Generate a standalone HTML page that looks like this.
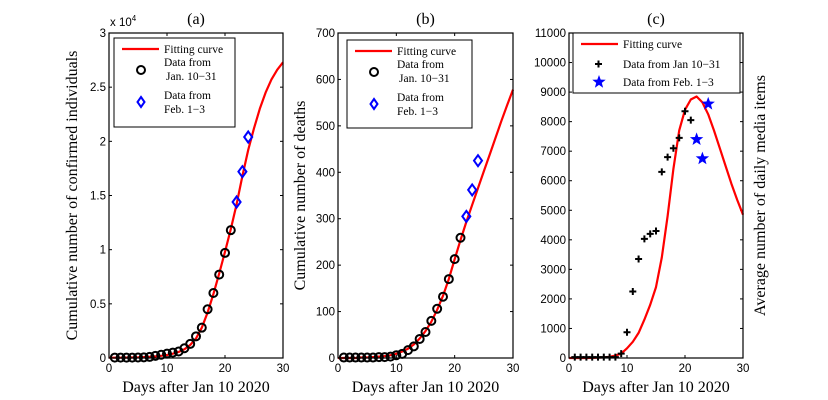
<!DOCTYPE html>
<html><head><meta charset="utf-8"><style>
html,body{margin:0;padding:0;background:#fff;}
svg{display:block;}
.tk{font-family:"Liberation Sans",sans-serif;font-size:11.5px;fill:#000;}
.lb{font-family:"Liberation Serif",serif;font-size:16px;fill:#000;}
.lg{font-family:"Liberation Serif",serif;font-size:11.5px;fill:#000;}
</style></head><body>
<svg id="chart" width="828" height="400" viewBox="0 0 828 400" xmlns="http://www.w3.org/2000/svg"></svg>
<script>
// Panel (a): confirmed (x1e4)
const days = [1,2,3,4,5,6,7,8,9,10,11,12,13,14,15,16,17,18,19,20,21];
const febDays = [22,23,24];
const curveDays = [0,1,2,3,4,5,6,7,8,9,10,11,12,13,14,15,16,17,18,19,20,21,22,23,24,25,26,27,28,29,30];
const confirmedData = [0.004,0.004,0.004,0.004,0.005,0.006,0.01,0.02,0.03,0.04,0.05,0.06,0.09,0.13,0.2,0.28,0.45,0.6,0.77,0.97,1.18];
const confirmedFeb = [1.44,1.72,2.04];
const confirmedFit = [0.003,0.003,0.003,0.004,0.005,0.006,0.008,0.011,0.015,0.02,0.028,0.04,0.055,0.08,0.12,0.18,0.28,0.42,0.59,0.78,0.98,1.19,1.42,1.68,1.92,2.12,2.3,2.45,2.57,2.66,2.73];
const aTicks = [0,0.5,1,1.5,2,2.5,3];
const aTickLabels = ["0","0.5","1","1.5","2","2.5","3"];
// Panel (b): deaths
const deathsData = [1,1,1,1,1,1,2,2,3,6,9,17,25,41,56,80,106,132,170,213,259];
const deathsFeb = [305,362,425];
const deathsFit = [0,0,0,0,1,1,2,3,4,6,9,14,20,29,42,58,78,104,134,170,213,254,293,330,366,402,438,474,510,545,578];
const bTicks = [0,100,200,300,400,500,600,700];
// Panel (c): media items
const mediaData = [30,30,30,30,30,30,30,30,150,870,2250,3350,4030,4200,4300,6300,6800,7100,7450,8350,8050];
const mediaFeb = [7400,6750,8600];
const mediaFit = [0,0,0,0,5,10,20,40,80,150,330,550,850,1300,1800,2400,3400,4800,6400,7700,8400,8750,8850,8650,8250,7700,7100,6500,5900,5350,4850];
const cTicks = [0,1000,2000,3000,4000,5000,6000,7000,8000,9000,10000,11000];
const xTicks = [0,10,20,30];

const svg = document.getElementById('chart');
const NS = 'http://www.w3.org/2000/svg';
function mk(tag, attrs, parent){const e=document.createElementNS(NS,tag);for(const k in attrs)e.setAttribute(k,attrs[k]);(parent||svg).appendChild(e);return e;}

function panel(o){
  const g=mk('g',{});
  
  
  const X=v=>o.x0+(v-0)/30*(o.x1-o.x0);
  const Y=v=>o.yb-(v/o.ymax)*(o.yb-o.yt);
  xTicks.forEach(t=>{
    mk('line',{x1:X(t),x2:X(t),y1:o.yb,y2:o.yb-3,stroke:'#000','stroke-width':1},g);
    mk('line',{x1:X(t),x2:X(t),y1:o.yt,y2:o.yt+3,stroke:'#000','stroke-width':1},g);
    const tx=mk('text',{x:X(t),y:o.yb+14,'text-anchor':'middle',class:'tk'},g);tx.textContent=t;
    
    
  });
  o.yticks.forEach((t,i)=>{
    mk('line',{x1:o.x0,x2:o.x0+3,y1:Y(t),y2:Y(t),stroke:'#000','stroke-width':1},g);
    mk('line',{x1:o.x1,x2:o.x1-3,y1:Y(t),y2:Y(t),stroke:'#000','stroke-width':1},g);
    const tx=mk('text',{x:o.x0-3,y:Y(t)+4,'text-anchor':'end',class:'tk'},g);tx.textContent=o.ylabels?o.ylabels[i]:t;
    
    
  });
  const d=curveDays.map((x,i)=>(i?'L':'M')+X(x).toFixed(1)+','+Y(o.fit[i]).toFixed(1)).join(' ');
  const p=mk('path',{d:d,fill:'none',stroke:'#f00','stroke-width':2.2,'stroke-linejoin':'round'},g);
  
  
  days.forEach((x,i)=>{
    const cx=X(x),cy=Y(o.data[i]);let m;
    if(o.mk==='plus'){m=mk('path',{d:`M${cx-3.5},${cy}H${cx+3.5}M${cx},${cy-3.5}V${cy+3.5}`,stroke:'#000','stroke-width':2},g);}
    else m=mk('circle',{cx:cx,cy:cy,r:4,fill:'none',stroke:'#000','stroke-width':2},g);
    
    
  });
  febDays.forEach((x,i)=>{
    const cx=X(x),cy=Y(o.feb[i]);let m;
    if(o.mk==='plus'){m=mk('path',{d:star(cx,cy,7),fill:'#00f'},g);}
    else m=mk('path',{d:`M${cx},${cy-5.5}L${cx+4},${cy}L${cx},${cy+5.5}L${cx-4},${cy}Z`,fill:'none',stroke:'#00f','stroke-width':2},g);
    
    
  });
  mk('rect',{x:o.x0,y:o.yt,width:o.x1-o.x0,height:o.yb-o.yt,fill:'none',stroke:'#000','stroke-width':1.2},g);
  const t=mk('text',{x:(o.x0+o.x1)/2,y:24,'text-anchor':'middle',class:'lb'},g);t.textContent=o.title;
  
  
  const xl=mk('text',{x:(o.x0+o.x1)/2,y:392,'text-anchor':'middle',class:'lb'},g);xl.textContent='Days after Jan 10 2020';
  
  
  const yl=mk('text',{x:o.ylx,y:(o.yt+o.yb)/2,'text-anchor':'middle',class:'lb',transform:`rotate(-90 ${o.ylx} ${(o.yt+o.yb)/2})`},g);yl.textContent=o.ylabel;
  
  
  const L=o.leg;
  const lg=mk('g',{},g);
  
  
  mk('rect',{x:L.x,y:L.y,width:L.w,height:L.h,fill:'#fff',stroke:'#000','stroke-width':1},lg);
  mk('line',{x1:L.x+8,x2:L.x+45,y1:L.y+11,y2:L.y+11,stroke:'#f00','stroke-width':2.2},lg);
  let tt=mk('text',{x:L.x+50,y:L.y+15,class:'lg'},lg);tt.textContent='Fitting curve';
  if(o.mk==='plus'){
    mk('path',{d:`M${L.x+22},${L.y+31}h7M${L.x+25.5},${L.y+27.5}v7`,stroke:'#000','stroke-width':2},lg);
    tt=mk('text',{x:L.x+50,y:L.y+35,class:'lg'},lg);tt.textContent='Data from Jan 10\u221231';
    mk('path',{d:star(L.x+26,L.y+49,7),fill:'#00f'},lg);
    tt=mk('text',{x:L.x+50,y:L.y+53,class:'lg'},lg);tt.textContent='Data from Feb. 1\u22123';
  } else {
    mk('circle',{cx:L.x+27,cy:L.y+32,r:4,fill:'none',stroke:'#000','stroke-width':2},lg);
    tt=mk('text',{x:L.x+50,y:L.y+28,class:'lg'},lg);tt.textContent='Data  from';
    tt=mk('text',{x:L.x+52,y:L.y+42,class:'lg'},lg);tt.textContent='Jan. 10\u221231';
    const cx=L.x+27,cy=L.y+64;
    mk('path',{d:`M${cx},${cy-5}L${cx+3.5},${cy}L${cx},${cy+5}L${cx-3.5},${cy}Z`,fill:'none',stroke:'#00f','stroke-width':2},lg);
    tt=mk('text',{x:L.x+50,y:L.y+61,class:'lg'},lg);tt.textContent='Data from';
    tt=mk('text',{x:L.x+50,y:L.y+75,class:'lg'},lg);tt.textContent='Feb. 1\u22123';
  }
}
function star(cx,cy,r){let s='';for(let i=0;i<10;i++){const a=-Math.PI/2+i*Math.PI/5;const rr=i%2?r*0.42:r;s+=(i?'L':'M')+(cx+rr*Math.cos(a)).toFixed(1)+','+(cy+rr*Math.sin(a)).toFixed(1);}return s+'Z';}

panel({name:'panel-a',title:'(a)',x0:109,x1:283,yt:33,yb:358,ymax:3,yticks:aTicks,ylabels:aTickLabels,fit:confirmedFit,data:confirmedData,feb:confirmedFeb,mk:'circle',ylx:77,ylabel:'Cumulative number of confirmed individuals',leg:{x:114,y:38,w:121,h:89}});
panel({name:'panel-b',title:'(b)',x0:338,x1:513,yt:33,yb:358,ymax:700,yticks:bTicks,fit:deathsFit,data:deathsData,feb:deathsFeb,mk:'circle',ylx:305,ylabel:'Cumulative number of deaths',leg:{x:347,y:40,w:125,h:88}});
panel({name:'panel-c',title:'(c)',x0:569,x1:743,yt:33,yb:358,ymax:11000,yticks:cTicks,fit:mediaFit,data:mediaData,feb:mediaFeb,mk:'plus',ylx:765,ylabel:'Average number of daily media items',leg:{x:573,y:33,w:167,h:60}});
const ex=mk('text',{x:110,y:26,class:'tk'});ex.innerHTML='x 10<tspan dy="-5" font-size="8">4</tspan>';


</script>
</body></html>
